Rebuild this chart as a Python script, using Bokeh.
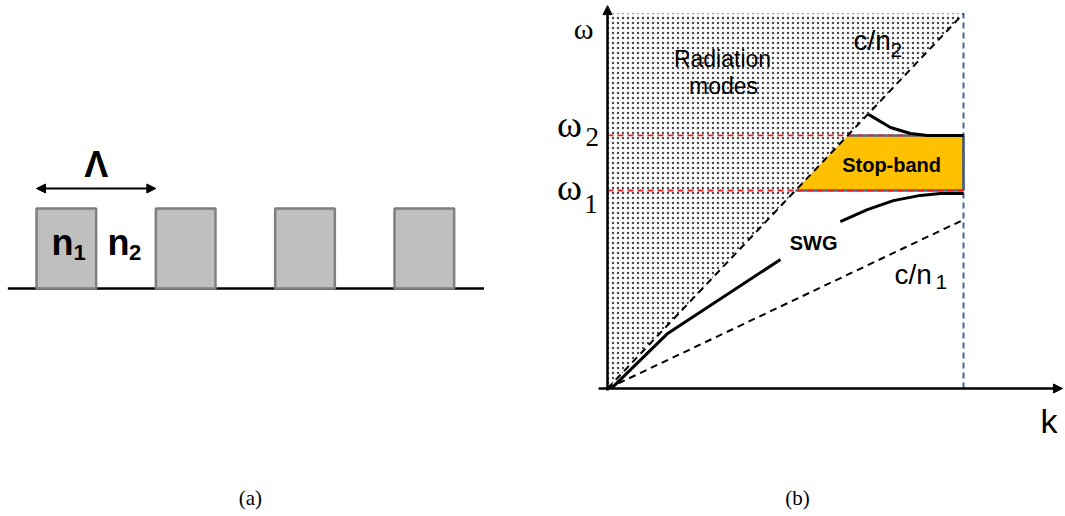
import math

from bokeh.plotting import figure
from bokeh.layouts import row
from bokeh.models import Range1d, Arrow, NormalHead
from bokeh.core.properties import value
from bokeh.embed import file_html
from bokeh.resources import INLINE

nan = float("nan")

# ---- (a) sub-wavelength grating, lengths in units of the period ----
period = 1.0
duty_cycle = 0.5
segment_index = [0, 1, 2, 3]
segment_height = 1.0
substrate_span = [-0.24, 3.75]

# ---- (b) band diagram: k normalised to the Bragg edge, omega to c/n2 there ----
k_edge = 1.0
slope_n2 = 1.0          # light line in the cladding (c/n2)
slope_n1 = 0.45         # light line in the core (c/n1)
omega_1 = 0.528         # lower edge of the stop-band
omega_2 = 0.675         # upper edge of the stop-band
lower_band_k = [0.014, 0.169, 0.486, nan, 0.654, 0.730, 0.803, 0.879, 0.935, 1.0]
lower_band_w = [0.003, 0.147, 0.344, nan, 0.445, 0.477, 0.501, 0.515, 0.520, 0.520]
upper_band_k = [0.733, 0.795, 0.851, 0.899, 1.0]
upper_band_w = [0.731, 0.696, 0.680, 0.675, 0.675]

SANS = "Liberation Sans"
SERIF = "Liberation Serif"


def make_canvas(width, xr, yr):
    p = figure(width=width, height=516, x_range=Range1d(*xr), y_range=Range1d(*yr),
               output_backend="svg", toolbar_location=None, min_border=0)
    p.axis.visible = False
    p.grid.visible = False
    p.outline_line_color = None
    p.background_fill_color = "white"
    p.border_fill_color = "white"
    return p


def label(p, x, y, s, size, font=SANS, style="normal", align="left"):
    # nudge up so the glyphs sit on the intended baseline
    p.text(x=[x], y=[y], text=[s], text_font=value(font), text_font_size=f"{size}px",
           text_font_style=style, text_align=align, text_baseline="alphabetic",
           text_color="black", y_offset=-round(0.3 * size))


# ================= panel (a) =================
pa = make_canvas(530, (-0.3017, 4.1398), (-2.85, 3.6))

left = [i * period for i in segment_index]
right = [i * period + duty_cycle * period for i in segment_index]
pa.line(x=substrate_span, y=[0, 0], line_color="black", line_width=2.5)
pa.quad(left=left, right=right, bottom=[0] * len(left), top=[segment_height] * len(left),
        fill_color="#bfbfbf", line_color="#7f7f7f", line_width=2.5)

arrow_y = 1.25 * segment_height
pa.add_layout(Arrow(x_start=0, y_start=arrow_y, x_end=period, y_end=arrow_y,
                    line_color="black", line_width=2,
                    start=NormalHead(size=9, fill_color="black", line_color="black"),
                    end=NormalHead(size=9, fill_color="black", line_color="black")))
label(pa, 0.5 * period, 1.41, "Λ", 36, style="bold", align="center")
label(pa, 0.125, 0.44, "n", 36, style="bold")
label(pa, 0.31, 0.36, "1", 22, style="bold")
label(pa, 0.595, 0.44, "n", 36, style="bold")
label(pa, 0.775, 0.36, "2", 22, style="bold")
label(pa, 1.793, -2.69, "(a)", 21, font=SERIF, align="center")

# ================= panel (b) =================
pb = make_canvas(535, (-0.2163, 1.2865), (-0.3413, 1.0347))

w_top = slope_n2 * k_edge
# radiation-mode region above the cladding light line
pb.patch(x=[0, 0, k_edge], y=[0, w_top, w_top], fill_color="white",
         hatch_pattern="dot", hatch_scale=5, hatch_weight=1.2, hatch_color="#4a4a4a",
         line_color=None)

# stop-band between the two band edges
sb_x = [omega_1 / slope_n2, omega_2 / slope_n2, k_edge, k_edge]
sb_y = [omega_1, omega_2, omega_2, omega_1]
pb.patch(x=sb_x, y=sb_y, fill_color="#ffc000", line_color=None)
pb.line(x=[omega_1 / slope_n2, k_edge], y=[omega_1, omega_1], line_color="#4f6a8c", line_width=2.5)
pb.line(x=[omega_2 / slope_n2, k_edge], y=[omega_2, omega_2], line_color="#4f6a8c", line_width=2.5)
pb.line(x=[k_edge, k_edge], y=[omega_1, omega_2], line_color="#3c4d66", line_width=2.5)

for w in (omega_1, omega_2):
    pb.line(x=[0, k_edge], y=[w, w], line_color="#e8262a", line_width=1.8, line_dash="6 4")

# Brillouin-zone edge
pb.line(x=[k_edge, k_edge], y=[0, w_top], line_color="#41689c", line_width=2, line_dash="6 4")

# light lines
pb.line(x=[0, k_edge], y=[0, slope_n2 * k_edge], line_color="black", line_width=2, line_dash="7 5")
pb.line(x=[0, k_edge], y=[0, slope_n1 * k_edge], line_color="black", line_width=2, line_dash="7 5")

# Bloch bands of the grating
pb.line(x=lower_band_k, y=lower_band_w, line_color="black", line_width=3)
pb.line(x=upper_band_k, y=upper_band_w, line_color="black", line_width=3)

# axes with arrowheads
pb.add_layout(Arrow(x_start=0, y_start=-0.005, x_end=0, y_end=1.021, line_color="black",
                    line_width=2.5, start=None,
                    end=NormalHead(size=9, fill_color="black", line_color="black")))
pb.add_layout(Arrow(x_start=-0.025, y_start=0, x_end=1.278, y_end=0, line_color="black",
                    line_width=2.5, start=None,
                    end=NormalHead(size=9, fill_color="black", line_color="black")))

label(pb, -0.095, 0.936, "ω", 30, font=SERIF)
label(pb, -0.142, omega_2, "ω", 38, font=SERIF)
label(pb, -0.062, 0.650, "2", 27, font=SERIF)
label(pb, -0.142, 0.507, "ω", 38, font=SERIF)
label(pb, -0.065, 0.472, "1", 27, font=SERIF)
label(pb, 1.216, -0.112, "k", 34)

label(pb, 0.323, 0.861, "Radiation", 23, align="center")
label(pb, 0.326, 0.787, "modes", 23, align="center")
label(pb, 0.691, 0.907, "c/n", 28)
label(pb, 0.795, 0.888, "2", 21)
label(pb, 0.806, 0.283, "c/n", 28)
label(pb, 0.921, 0.269, "1", 21)
label(pb, 0.798, 0.579, "Stop-band", 20, style="bold", align="center")
label(pb, 0.579, 0.373, "SWG", 20, style="bold", align="center")
label(pb, 0.534, -0.307, "(b)", 21, font=SERIF, align="center")

layout = row(pa, pb)
open("out.html", "w").write(file_html(layout, INLINE))
